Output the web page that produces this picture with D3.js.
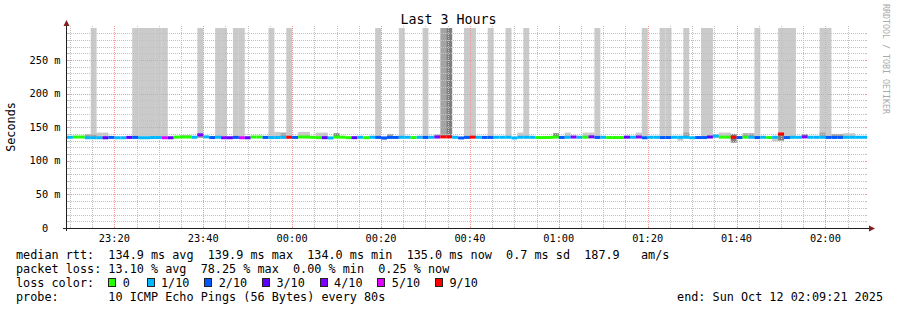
<!DOCTYPE html>
<html><head><meta charset="utf-8">
<script src="https://cdn.jsdelivr.net/npm/d3@7"></script>
<style>
body{margin:0;background:#fff}
svg{display:block}
text{font-family:"DejaVu Sans Mono",monospace}
</style>
</head><body>
<svg id="chart" width="897" height="310"></svg>
<script>
// ---------------- data ----------------
const chartTitle = "Last 3 Hours";
const yAxisTitle = "Seconds";
const watermark = "RRDTOOL / TOBI OETIKER";
const endTime = Date.UTC(2025, 9, 12, 2, 9, 21);
const stepSeconds = 80;
const stepCount = 135;
const yMax = 297.6;
const yTickValues = [0, 50, 100, 150, 200, 250];
const yTickLabels = ["0", "50 m", "100 m", "150 m", "200 m", "250 m"];

const lossKeys = [0, 1, 2, 3, 4, 5, 9];
const lossLabels = ["0", "1/10", "2/10", "3/10", "4/10", "5/10", "9/10"];
const lossColors = ["#26ff00", "#00b8ff", "#0059ff", "#5e00ff", "#7e00ff", "#dd00ff", "#ff0000"];

// lost pings (out of 10) per 80 s step
const stepLoss = [
  1,0,0,1,1,1,3,2,1,1,
  3,2,1,1,1,1,5,3,0,0,
  0,1,4,1,2,1,4,3,2,5,
  3,0,0,2,1,1,1,9,2,0,
  0,0,0,3,1,0,0,0,3,1,
  0,1,2,2,2,2,1,1,0,1,
  2,1,4,9,9,1,2,2,9,1,
  2,2,1,1,1,1,1,1,1,0,
  0,0,0,2,1,4,1,0,4,2,
  1,0,0,0,3,1,4,2,1,1,
  2,2,1,1,1,1,2,2,3,1,
  0,0,9,2,0,1,2,1,0,1,
  9,2,1,1,4,1,1,1,2,2,
  2,1,1,1,1
];
// median rtt (ms) per step
const stepMedian = [
  135.0,135.4,135.4,134.3,134.3,134.3,134.3,134.8,134.3,134.3,
  134.8,134.8,134.3,134.3,134.6,134.6,134.3,134.3,135.2,135.4,
  135.4,135.0,138.5,135.6,134.6,135.0,134.3,134.3,134.8,134.3,
  134.3,135.4,135.4,134.8,134.6,134.6,135.0,135.0,134.8,135.4,
  135.4,135.0,134.4,134.4,134.0,135.4,135.2,134.4,134.4,135.0,
  134.4,135.0,134.8,134.0,134.8,134.8,135.0,135.0,134.6,135.0,
  134.8,135.0,135.4,135.6,135.6,135.0,134.0,134.8,135.2,135.0,
  134.8,134.8,135.0,135.0,135.0,134.0,135.0,135.0,135.0,134.6,
  134.6,134.8,135.4,134.8,135.0,135.4,135.0,135.2,135.6,134.8,
  135.0,134.6,134.6,134.6,135.2,135.0,135.4,134.3,135.0,135.0,
  134.6,134.6,135.0,135.0,135.0,134.3,134.6,134.6,135.4,136.8,
  135.2,135.2,135.0,134.6,135.2,135.0,134.6,135.0,134.6,135.0,
  139.9,134.6,135.0,135.0,135.6,135.0,135.0,135.0,134.8,134.8,
  134.8,135.0,135.0,135.0,135.0
];

// smoke (ping spread) bands: step index, low ms, high ms, depth level (pings outside band)
const smokeStep = [4,11,12,13,14,15,16,22,25,26,28,29,34,37,52,56,60,67,68,71,74,77,89,97,100,101,104,107,108,116,120,121,122,127,128,
  63,64,
  3,4,5,6,19,20,22,34,35,36,39,40,42,43,45,53,54,62,76,82,84,87,88,96,103,104,109,110,111,112,114,115,119,120,124,127,129,130,131,132];
const smokeLo = [136,136,136,136,136,136,136,136,136,136,136,136,136,136,136,136,136,136,136,136,136,136,136,136,136,136,136,136,136,136,136,136,136,136,136,
  137,137,
  133,133,133,132,134,134,134,133,133,133,134,134,133,133,134,131,134,134,134,134,134,134,134,134,130,134,134,134,134,127,134,134,129,130,134,134,134,134,134,134];
const smokeHi = [400,400,400,400,400,400,400,400,400,400,400,400,400,400,400,400,400,400,400,400,400,400,400,400,400,400,400,400,400,400,400,400,400,400,400,
  400,400,
  139.5,139.5,142,142,138.5,138.5,141,143,143,142,143,143,142,142,141,136,140,139,142,141,142,142,142,142,136,142,139,142,142,140,141,141,136,141,140,142,140,140,141,141];
const smokeLevel = [1,1,1,1,1,1,1,1,1,1,1,1,1,1,1,1,1,1,1,1,1,1,1,1,1,1,1,1,1,1,1,1,1,1,1,
  2,3,
  2,2,1,1,1,1,2,1,1,2,1,1,1,1,3,1,2,2,1,3,1,1,1,1,1,2,1,1,1,3,2,2,1,3,2,2,2,2,1,1];
const smokeShades = ["#cacaca", "#a4a4a4", "#7e7e7e", "#585858"];

const rttValues = [134.9, 139.9, 134.0, 135.0];
const rttNames = ["avg", "max", "min", "now"];
const rttSd = 0.7;
const rttAmps = 187.9;
const lossValues = [13.10, 78.25, 0.00, 0.25];
const probeText = "10 ICMP Echo Pings (56 Bytes) every 80s";
const endText = "end: Sun Oct 12 02:09:21 2025";

// ---------------- layout ----------------
const svg = d3.select("#chart");
const X0 = 67, X1 = 867, Y0 = 28, Y1 = 228;
const startTime = endTime - stepCount * stepSeconds * 1000;
const x = d3.scaleUtc().domain([startTime, endTime]).range([X0, X1]);
const y = d3.scaleLinear().domain([0, yMax]).range([Y1, Y0]);
const stepT = i => startTime + i * stepSeconds * 1000;
const lossColor = d3.scaleOrdinal().domain(lossKeys).range(lossColors);

svg.append("rect").attr("width", 897).attr("height", 310).attr("fill", "#fff");

// smoke
const smokeIdx = d3.range(smokeStep.length).sort((a, b) => smokeLevel[a] - smokeLevel[b]);
const plot = svg.append("g");
plot.append("clipPath").attr("id", "clip").append("rect")
  .attr("x", X0).attr("y", Y0).attr("width", X1 - X0).attr("height", Y1 - Y0);
const pg = plot.append("g").attr("clip-path", "url(#clip)");
pg.selectAll("rect.smoke").data(smokeIdx).join("rect")
  .attr("x", i => x(stepT(smokeStep[i])))
  .attr("width", i => x(stepT(smokeStep[i] + 1)) - x(stepT(smokeStep[i])))
  .attr("y", i => y(smokeHi[i]))
  .attr("height", i => y(smokeLo[i]) - y(smokeHi[i]))
  .attr("fill", i => smokeShades[smokeLevel[i] - 1]);

// grid
const grid = svg.append("g").attr("shape-rendering", "crispEdges");
const minorCol = "#c2c2c2", majorCol = "#ee9a9a";
const hMinor = d3.range(10, yMax, 10).filter(v => v % 50 !== 0);
const hMajor = yTickValues.filter(v => v > 0);
function hline(v, col) {
  const yy = Math.round(y(v)) + 0.5;
  grid.append("line").attr("x1", X0).attr("x2", X1).attr("y1", yy).attr("y2", yy)
    .attr("stroke", col).attr("stroke-dasharray", "1,1");
  grid.append("line").attr("x1", X0).attr("x2", X0 + 2).attr("y1", yy).attr("y2", yy).attr("stroke", col);
  grid.append("line").attr("x1", X1 - 2).attr("x2", X1).attr("y1", yy).attr("y2", yy).attr("stroke", col);
}
hMinor.forEach(v => hline(v, minorCol));
hMajor.forEach(v => hline(v, majorCol));
const vAll = d3.utcMinute.every(5).range(new Date(startTime), new Date(endTime));
const vMajor = d3.utcMinute.every(20).range(new Date(startTime), new Date(endTime));
function vline(t, col) {
  const xx = Math.round(x(t)) + 0.5;
  grid.append("line").attr("x1", xx).attr("x2", xx).attr("y1", Y0 - 2).attr("y2", Y1)
    .attr("stroke", col).attr("stroke-dasharray", "1,1");
  grid.append("line").attr("x1", xx).attr("x2", xx).attr("y1", Y1 - 2).attr("y2", Y1).attr("stroke", col);
}
vAll.filter(t => t.getUTCMinutes() % 20 !== 0).forEach(t => vline(t, minorCol));
vMajor.forEach(t => vline(t, majorCol));

// median line coloured by loss
svg.append("g").selectAll("rect").data(d3.range(stepCount)).join("rect")
  .attr("x", i => x(stepT(i)))
  .attr("width", i => x(stepT(i + 1)) - x(stepT(i)))
  .attr("y", i => y(stepMedian[i]) - 1.5)
  .attr("height", 3)
  .attr("fill", i => lossColor(stepLoss[i]));

// axes
const ax = svg.append("g");
ax.append("line").attr("x1", 63).attr("x2", 870).attr("y1", Y1 + 0.5).attr("y2", Y1 + 0.5).attr("stroke", "#1f1f1f").attr("shape-rendering", "crispEdges");
ax.append("line").attr("x1", 66.5).attr("x2", 66.5).attr("y1", Y1 + 3).attr("y2", 25).attr("stroke", "#1f1f1f").attr("shape-rendering", "crispEdges");
ax.append("path").attr("d", "M63.5,26L69.5,26L66.5,20Z").attr("fill", "#801f1f");
ax.append("path").attr("d", "M869,225.5L869,231.5L875,228.5Z").attr("fill", "#801f1f");

// y tick labels
const axisFont = 10.3, charAxis = axisFont * 0.602;
svg.append("g").selectAll("text").data(yTickValues).join("text")
  .attr("x", (d, i) => 60.5 - (yTickLabels[i].indexOf(" ") < 0 && d === 0 ? 2 * charAxis : 0))
  .attr("y", d => y(d) + 3.7)
  .attr("text-anchor", "end")
  .attr("font-size", axisFont)
  .text((d, i) => yTickLabels[i]);

// x tick labels
svg.append("g").selectAll("text").data(vMajor).join("text")
  .attr("x", d => x(d))
  .attr("y", 241.5)
  .attr("text-anchor", "middle")
  .attr("font-size", axisFont)
  .text(d3.utcFormat("%H:%M"));

// titles
svg.append("text").attr("x", 448.5).attr("y", 24).attr("text-anchor", "middle")
  .attr("font-size", 13.3).text(chartTitle);
svg.append("text").attr("transform", "translate(15.3,127) rotate(-90)").attr("text-anchor", "middle")
  .attr("font-size", 11.8).text(yAxisTitle);
svg.append("text").attr("transform", "translate(883,4) rotate(90)").attr("text-anchor", "start")
  .attr("font-size", 8.3).attr("fill", "#aaaaaa").text(watermark);

// legend
const LF = 11.8, CW = 7.1, LX = 16;
const rows = [259, 273, 287, 301];
function legendText(str, xx, yy, anchor) {
  svg.append("text").attr("x", xx).attr("y", yy).attr("font-size", LF)
    .attr("text-anchor", anchor || "start").style("white-space", "pre").text(str);
}
const rttLine = "median rtt:  " + rttValues.map((v, i) => v.toFixed(1) + " ms " + rttNames[i]).join("  ")
  + "  " + rttSd.toFixed(1) + " ms sd  " + rttAmps.toFixed(1) + "   am/s";
legendText(rttLine, LX, rows[0]);
const lossLine = "packet loss: " + lossValues.map((v, i) => v.toFixed(2) + " % " + rttNames[i]).join("  ");
legendText(lossLine, LX, rows[1]);
legendText("loss color:", LX, rows[2]);
let bx = LX + 13 * CW;
lossLabels.forEach((lab, i) => {
  svg.append("rect").attr("x", Math.round(bx) + 0.5).attr("y", rows[2] - 8.5).attr("width", 7).attr("height", 8)
    .attr("fill", lossColors[i]).attr("stroke", "#222").attr("stroke-width", 1);
  legendText(lab, bx + 14.4, rows[2]);
  bx += Math.max(lab.length, 1.27) * CW + 29.3;
});
legendText("probe:       " + probeText, LX, rows[3]);
legendText(endText, 883, rows[3], "end");
</script>
</body></html>
